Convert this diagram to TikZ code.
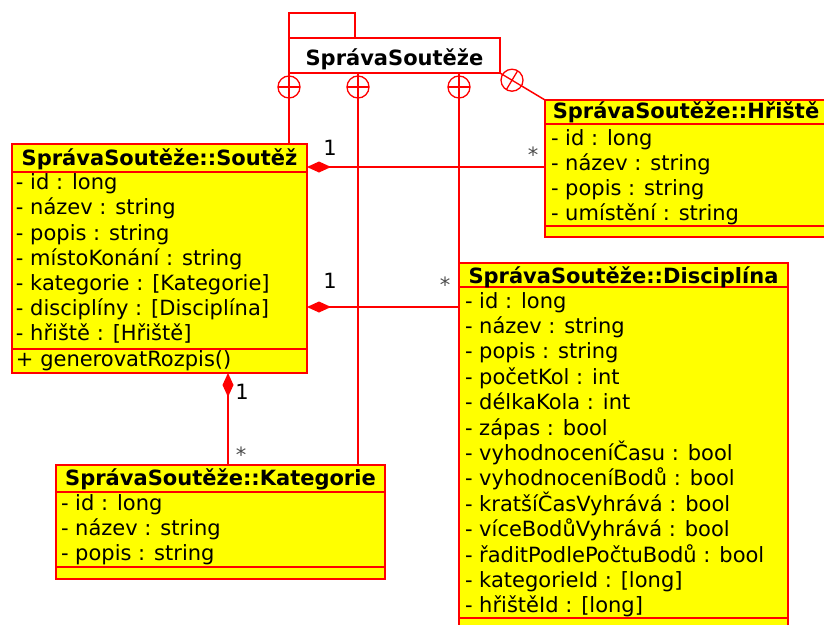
\documentclass[tikz,border=0pt]{standalone}
\usepackage{fontspec}
\setmainfont{DejaVu Sans}
\usetikzlibrary{arrows.meta,calc}
\definecolor{umlred}{RGB}{255,0,0}
\definecolor{umlyellow}{RGB}{255,255,0}
\begin{document}
\begin{tikzpicture}[x=1pt,y=-1pt,
  every node/.style={font=\fontsize{21}{25}\selectfont, inner sep=0pt, outer sep=0pt},
  classbox/.style={draw=umlred, fill=umlyellow, line width=1.5pt, rectangle, anchor=north west},
  pkgbox/.style={draw=umlred, fill=white, line width=1.5pt, rectangle, anchor=north west},
  divider/.style={draw=umlred, line width=1.5pt},
  clstitle/.style={font=\fontsize{21}{25}\selectfont\bfseries, anchor=base},
  attrtext/.style={anchor=base west},
  multtext/.style={anchor=base},
  startext/.style={anchor=base, text=black!70},
  linkline/.style={draw=umlred, line width=1.5pt},
  compos/.style={linkline, {Diamond[length=24pt,width=11pt,fill=umlred]}-},
  nestring/.style={circle, draw=umlred, fill=white, line width=1.3pt, minimum size=22pt, inner sep=0pt},
  nestplus/.style={nestring, path picture={
      \draw[umlred, line width=1.3pt] (path picture bounding box.north) -- (path picture bounding box.south)
        (path picture bounding box.west) -- (path picture bounding box.east);}}
]
\useasboundingbox (0,0) rectangle (824,624);

% helper coordinates
\coordinate (yH) at (0,167);
\coordinate (yD) at (0,307);
\coordinate (xK) at (228,0);
\coordinate (xP) at (358,0);

% package
\node[pkgbox, minimum width=66pt, minimum height=25pt] (pkgtab) at (289,13) {};
\node[pkgbox, minimum width=211pt, minimum height=35pt] (pkg) at (289,38) {};
\node[clstitle] (pkgname) at (394.5,65) {SprávaSoutěže};

% class boxes
\node[classbox, minimum width=295pt, minimum height=229pt] (soutez) at (12,144) {};
\node[classbox, minimum width=282pt, minimum height=137pt] (hriste) at (545,100) {};
\node[classbox, minimum width=329pt, minimum height=380pt] (disc) at (459,263) {};
\node[classbox, minimum width=329pt, minimum height=114pt] (kat) at (56,465) {};

% dividers
\draw[divider] (12,172) -- (307,172) (12,349) -- (307,349);
\draw[divider] (545,124) -- (830,124) (545,226) -- (830,226);
\draw[divider] (459,287) -- (788,287) (459,618) -- (788,618);
\draw[divider] (56,492) -- (385,492) (56,567) -- (385,567);

% Soutez
\node[clstitle] (t1) at (159.5,165) {SprávaSoutěže::Soutěž};
\node[attrtext] (s1) at (16,189) {- id : long};
\node[attrtext] (s2) at (16,214.5) {- název : string};
\node[attrtext] (s3) at (16,240) {- popis : string};
\node[attrtext] (s4) at (16,265) {- místoKonání : string};
\node[attrtext] (s5) at (16,290) {- kategorie : [Kategorie]};
\node[attrtext] (s6) at (16,315) {- disciplíny : [Disciplína]};
\node[attrtext] (s7) at (16,340) {- hřiště : [Hřiště]};
\node[attrtext] (s8) at (16,366) {+ generovatRozpis()};

% Hriste
\node[clstitle] (t2) at (686,118) {SprávaSoutěže::Hřiště};
\node[attrtext] (h1) at (551,145) {- id : long};
\node[attrtext] (h2) at (551,170) {- název : string};
\node[attrtext] (h3) at (551,195) {- popis : string};
\node[attrtext] (h4) at (551,220) {- umístění : string};

% Disciplina
\node[clstitle] (t3) at (623.5,283) {SprávaSoutěže::Disciplína};
\node[attrtext] (d1) at (465,308) {- id : long};
\node[attrtext] (d2) at (465,333.4) {- název : string};
\node[attrtext] (d3) at (465,358.8) {- popis : string};
\node[attrtext] (d4) at (465,384.2) {- početKol : int};
\node[attrtext] (d5) at (465,409.6) {- délkaKola : int};
\node[attrtext] (d6) at (465,435) {- zápas : bool};
\node[attrtext] (d7) at (465,460.4) {- vyhodnoceníČasu : bool};
\node[attrtext] (d8) at (465,485.8) {- vyhodnoceníBodů : bool};
\node[attrtext] (d9) at (465,511.2) {- kratšíČasVyhrává : bool};
\node[attrtext] (d10) at (465,536.6) {- víceBodůVyhrává : bool};
\node[attrtext] (d11) at (465,562) {- řaditPodlePočtuBodů : bool};
\node[attrtext] (d12) at (465,587.4) {- kategorieId : [long]};
\node[attrtext] (d13) at (465,612.8) {- hřištěId : [long]};

% Kategorie
\node[clstitle] (t4) at (220.5,485) {SprávaSoutěže::Kategorie};
\node[attrtext] (k1) at (61,510) {- id : long};
\node[attrtext] (k2) at (61,535) {- název : string};
\node[attrtext] (k3) at (61,560) {- popis : string};

% containment connectors
\draw[linkline] (pkg.south west) -- (pkg.south west |- soutez.north);
\draw[linkline] (pkg.south -| xP) -- (kat.north -| xP);
\draw[linkline] (pkg.south -| disc.north west) -- (disc.north west);
\draw[linkline] (pkg.south east) -- (hriste.north west);

\node[nestplus] (n1) at ($(pkg.south west)+(0,14)$) {};
\node[nestplus] (n2) at ($(pkg.south -| xP)+(0,14)$) {};
\node[nestplus] (n3) at ($(pkg.south -| disc.north west)+(0,14)$) {};
\node[nestring] (n4) at ($(pkg.south east)!14pt!(hriste.north west)$) {};
\draw[umlred, line width=1.3pt]
  ($(n4.center)!11pt!(hriste.north west)$) -- ($(n4.center)!-11pt!(hriste.north west)$)
  ($(n4.center)!11pt!90:(hriste.north west)$) -- ($(n4.center)!11pt!-90:(hriste.north west)$);

% composition connectors
\draw[compos] (soutez.east |- yH) -- (hriste.west |- yH);
\draw[compos] (soutez.east |- yD) -- (disc.west |- yD);
\draw[compos] (soutez.south -| xK) -- (kat.north -| xK);

% multiplicities
\node[multtext] (m1) at (330,155) {1};
\node[startext] (m2) at (533,162) {*};
\node[multtext] (m3) at (330,288) {1};
\node[startext] (m4) at (445,292) {*};
\node[multtext] (m5) at (242,399) {1};
\node[startext] (m6) at (241,462) {*};
\end{tikzpicture}
\end{document}
